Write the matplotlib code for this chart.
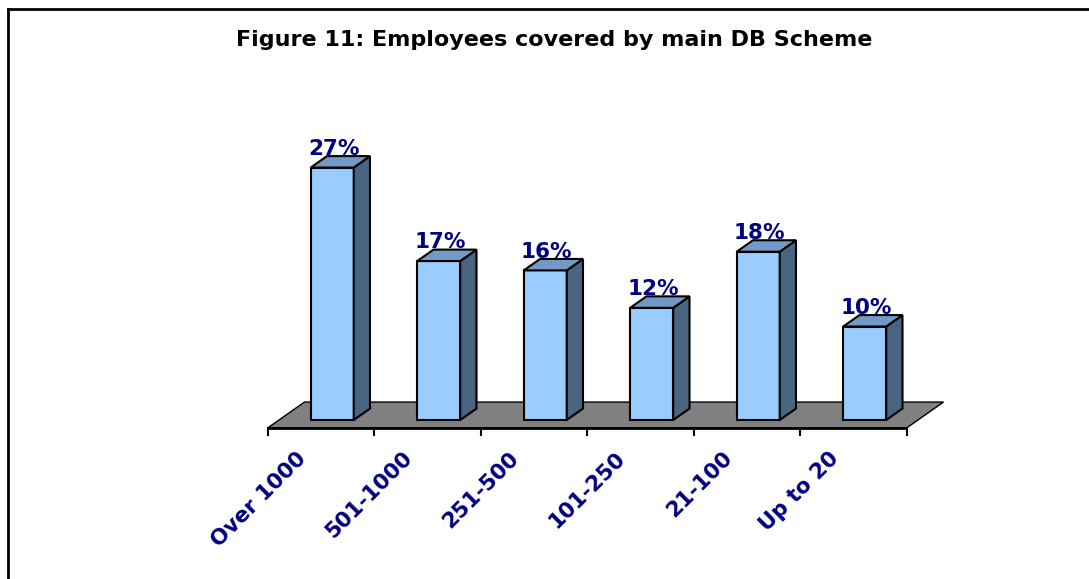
import matplotlib
matplotlib.use("Agg")
import matplotlib.pyplot as plt
import matplotlib.patches as mpatches
from matplotlib.lines import Line2D

plt.rcParams.update({"font.family": "DejaVu Sans"})

categories = ["Over 1000", "501-1000", "251-500", "101-250", "21-100", "Up to 20"]
values = [27, 17, 16, 12, 18, 10]
title = "Figure 11: Employees covered by main DB Scheme"

FRONT = "#99CCFF"
SIDE = "#4A6580"
TOP = "#7399C6"
FLOOR = "#808080"
NAVY = "#000080"

W_PX, H_PX = 1089, 579
fig = plt.figure(figsize=(W_PX / 100, H_PX / 100), dpi=100)
ax = fig.add_axes([0, 0, 1, 1])
ax.set_axis_off()

# pixel geometry of the plot area -> data limits
x_left_px, cat_px = 267.5, 106.5     # left edge of first category, px per category
y0_row, unit_px = 420.0, 9.35        # row of bar bottoms, px per percent
ax.set_xlim(-0.5 - x_left_px / cat_px, -0.5 + (W_PX - x_left_px) / cat_px)
ax.set_ylim((y0_row - H_PX) / unit_px, y0_row / unit_px)

# 3D depth (floor) in data units
ddx, ddy = 37 / cat_px, 26 / unit_px
bar_front, bar_depth = 0.31, 0.44
bar_w = 43 / cat_px
y_floor = -bar_front * ddy
n = len(categories)

floor = [(-0.5, y_floor), (n - 0.5, y_floor),
         (n - 0.5 + ddx, y_floor + ddy), (-0.5 + ddx, y_floor + ddy)]
ax.add_patch(mpatches.Polygon(floor, closed=True, facecolor=FLOOR,
                              edgecolor="black", linewidth=1, zorder=1))
ax.plot([-0.5, n - 0.5], [y_floor, y_floor], color="black", lw=2,
        solid_capstyle="butt", zorder=2)
tick_len = 7 / unit_px
for t in range(n + 1):
    ax.plot([t - 0.5, t - 0.5], [y_floor, y_floor - tick_len], color="black",
            lw=1.5, zorder=2)

sx, sy = bar_depth * ddx, bar_depth * ddy
for i, v in enumerate(values):
    x0 = i - bar_w / 2 + bar_front * ddx
    x1 = x0 + bar_w
    kw = dict(closed=True, edgecolor="black", linewidth=1.5, zorder=3,
              joinstyle="miter")
    ax.add_patch(mpatches.Polygon([(x0, 0), (x1, 0), (x1, v), (x0, v)],
                                  facecolor=FRONT, **kw))
    ax.add_patch(mpatches.Polygon([(x1, 0), (x1 + sx, sy), (x1 + sx, v + sy), (x1, v)],
                                  facecolor=SIDE, **kw))
    ax.add_patch(mpatches.Polygon([(x0, v), (x1, v), (x1 + sx, v + sy), (x0 + sx, v + sy)],
                                  facecolor=TOP, **kw))
    ax.text(i + 0.12, v + sy + 0.15, f"{v}%", ha="center", va="baseline",
            fontsize=15.5, fontweight="bold", color=NAVY, zorder=4)

for i, lab in enumerate(categories):
    ax.text(i - 0.17, y_floor - 27 / unit_px, lab, rotation=45,
            rotation_mode="anchor", ha="right", va="center",
            fontsize=15.5, fontweight="bold", color=NAVY)

fig.text(554 / W_PX, 1 - 40 / H_PX, title, ha="center", va="center",
         fontsize=16, fontweight="bold", color="black")

# chart frame: only top and left edges are visible in the crop
fig.add_artist(Line2D([8 / W_PX, 8 / W_PX], [0, 1 - 9 / H_PX],
                      transform=fig.transFigure, color="black", lw=2))
fig.add_artist(Line2D([8 / W_PX, 1], [1 - 9 / H_PX, 1 - 9 / H_PX],
                      transform=fig.transFigure, color="black", lw=2))

fig.savefig("out.png", dpi=100)
